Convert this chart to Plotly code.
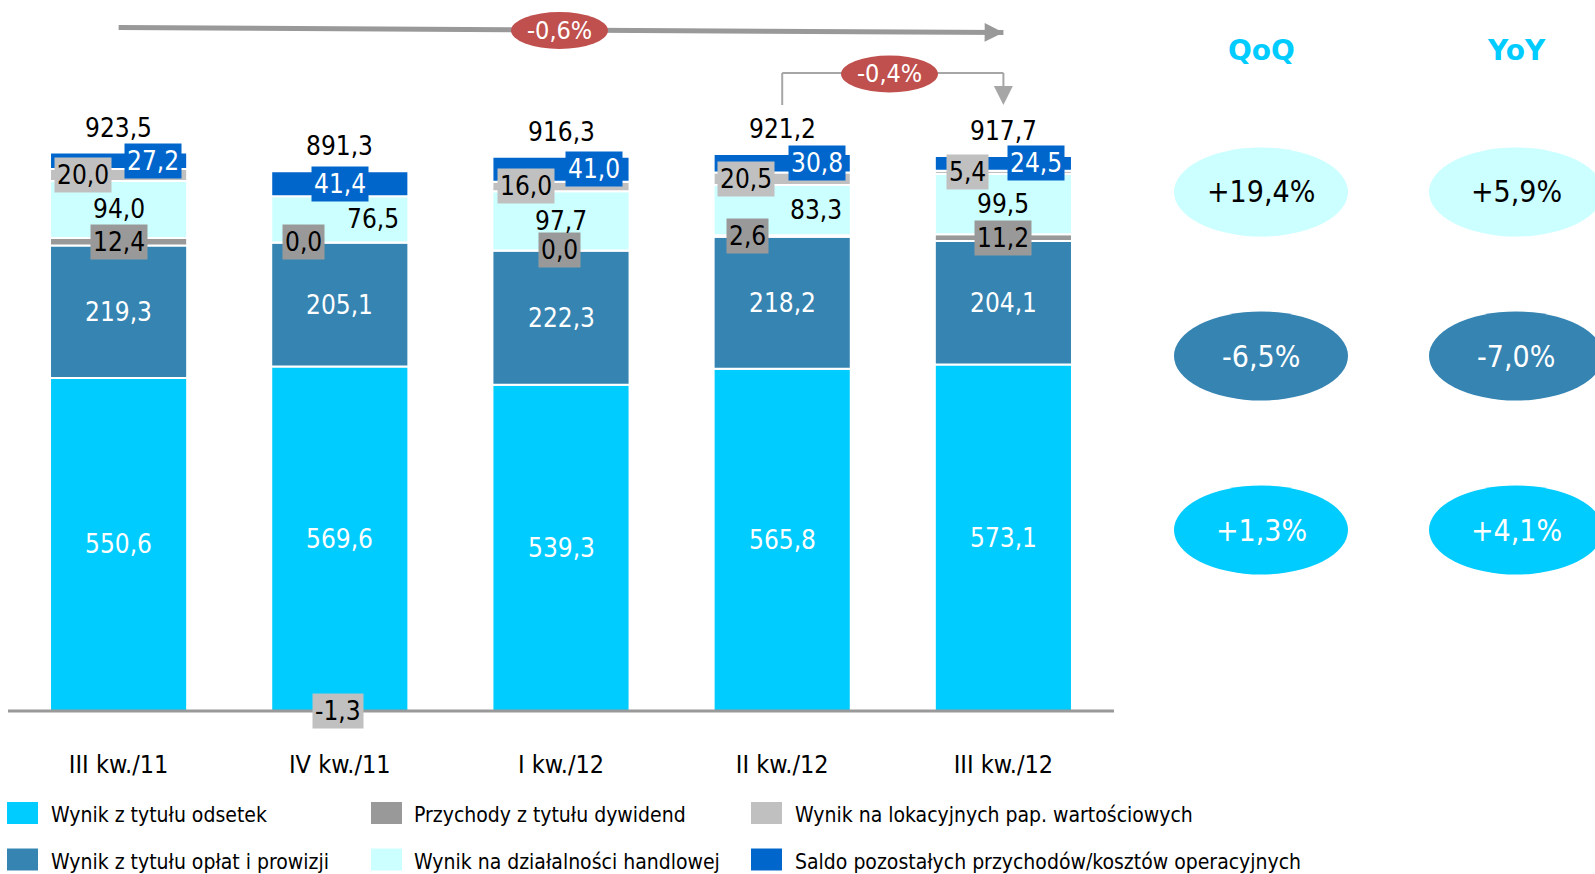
import plotly.graph_objects as go

# ---- data -------------------------------------------------------------
categories = ["III kw./11", "IV kw./11", "I kw./12", "II kw./12", "III kw./12"]

series_names = [
    "Wynik z tytułu odsetek",
    "Wynik z tytułu opłat i prowizji",
    "Przychody z tytułu dywidend",
    "Wynik na działalności handlowej",
    "Wynik na lokacyjnych pap. wartościowych",
    "Saldo pozostałych przychodów/kosztów operacyjnych",
]

odsetki = [550.6, 569.6, 539.3, 565.8, 573.1]
prowizje = [219.3, 205.1, 222.3, 218.2, 204.1]
dywidendy = [12.4, 0.0, 0.0, 2.6, 11.2]
handel = [94.0, 76.5, 97.7, 83.3, 99.5]
lokacyjne = [20.0, -1.3, 16.0, 20.5, 5.4]
pozostale = [27.2, 41.4, 41.0, 30.8, 24.5]
totals = [923.5, 891.3, 916.3, 921.2, 917.7]

change_overall = "-0,6%"
change_last = "-0,4%"

qoq = ["+19,4%", "-6,5%", "+1,3%"]
yoy = ["+5,9%", "-7,0%", "+4,1%"]

# ---- styling ----------------------------------------------------------
W, H = 1595, 874
FONT = "DejaVu Sans Condensed, Liberation Sans Narrow, DejaVu Sans, sans-serif"
colors = ["#00CCFF", "#3584B2", "#999999", "#CCFFFF", "#C0C0C0", "#0066CC"]
label_font_colors = ["white", "white", "black", "black", "black", "white"]
label_bg = [None, None, "#999999", None, "#C0C0C0", "#0066CC"]
label_xshift = [
    [0, 0, 0, 0, 0],
    [0, 0, 0, 0, 0],
    [0, -36, -2, -35, 0],
    [0, 33, 0, 34, 0],
    [-36, -2, -35, -36, -36],
    [34, 0, 33, 35, 33],
]
# rows of the change panel follow these series (handlowa, prowizje, odsetki)
panel_series = [3, 1, 0]
panel_text_colors = ["black", "white", "white"]

series_values = [odsetki, prowizje, dywidendy, handel, lokacyjne, pozostale]

PLOT_BOTTOM = 717  # pixel row of the bottom of the bar area
Y_RANGE = [-10, 1175.7]


def px_x(p):
    return p / W


def px_y(p):
    return (H - p) / H


def fmt(v):
    return f"{v:.1f}".replace(".", ",")


def paper_text(x, y, text, font, anchor="center"):
    return dict(x=px_x(x), y=px_y(y), xref="paper", yref="paper",
                xanchor=anchor, yanchor="middle", text=text,
                showarrow=False, font=font)


fig = go.Figure()
for name, vals, col in zip(series_names, series_values, colors):
    fig.add_trace(go.Bar(
        x=categories, y=vals, name=name,
        marker=dict(color=col, line=dict(color="white", width=2)),
        showlegend=False,
    ))

# ---- segment value labels ---------------------------------------------
annotations = []
for ci, cat in enumerate(categories):
    pos_base, neg_base = 0.0, 0.0
    for si, vals in enumerate(series_values):
        v = vals[ci]
        if v >= 0:
            mid = pos_base + v / 2
            pos_base += v
        else:
            mid = neg_base + v / 2
            neg_base += v
        ann = dict(
            x=cat, y=mid, xref="x", yref="y", text=fmt(v), showarrow=False,
            xanchor="center", yanchor="middle",
            xshift=label_xshift[si][ci],
            font=dict(family=FONT, size=26, color=label_font_colors[si]),
        )
        if label_bg[si]:
            ann.update(bgcolor=label_bg[si], borderpad=2)
        annotations.append(ann)
    # total above the stack
    annotations.append(dict(
        x=cat, y=pos_base, xref="x", yref="y", text=fmt(totals[ci]),
        showarrow=False, xanchor="center", yanchor="middle", yshift=25,
        font=dict(family=FONT, size=26, color="black"),
    ))

shapes = []
# baseline
shapes.append(dict(type="line", xref="paper", yref="y",
                   x0=px_x(8), x1=px_x(1114), y0=0, y1=0,
                   line=dict(color="#999999", width=3), layer="above"))

# overall change arrow (first -> last quarter)
shapes.append(dict(type="line", xref="x", yref="paper",
                   x0=categories[0], x1=categories[4],
                   y0=px_y(27.5), y1=px_y(32.5),
                   line=dict(color="#999999", width=5)))
annotations.append(dict(x=categories[4], y=px_y(32.5), xref="x", yref="paper",
                        ax=-14, ay=-0.1, axref="pixel", ayref="pixel",
                        text="", showarrow=True, arrowhead=2, arrowsize=0.75,
                        arrowwidth=5, arrowcolor="#999999", standoff=0))

# last-quarter change bracket
BR = "#A6A6A6"
shapes.append(dict(type="line", xref="x", yref="paper",
                   x0=categories[3], x1=categories[3], y0=px_y(105), y1=px_y(73),
                   line=dict(color=BR, width=2)))
shapes.append(dict(type="line", xref="x", yref="paper",
                   x0=categories[3], x1=categories[4], y0=px_y(73), y1=px_y(73),
                   line=dict(color=BR, width=2)))
shapes.append(dict(type="line", xref="x", yref="paper",
                   x0=categories[4], x1=categories[4], y0=px_y(73), y1=px_y(94),
                   line=dict(color=BR, width=2)))
annotations.append(dict(x=categories[4], y=px_y(105), xref="x", yref="paper",
                        ax=0, ay=-12, axref="pixel", ayref="pixel",
                        text="", showarrow=True, arrowhead=2, arrowsize=1.9,
                        arrowwidth=2, arrowcolor=BR, standoff=0))

# red change bubbles
for (cx, cy), txt in [((559.5, 30.5), change_overall), ((889.5, 74), change_last)]:
    shapes.append(dict(type="circle", xref="paper", yref="paper",
                       x0=px_x(cx - 48.5), x1=px_x(cx + 48.5),
                       y0=px_y(cy + 18.5), y1=px_y(cy - 18.5),
                       fillcolor="#C0504D", line=dict(width=0)))
    annotations.append(paper_text(cx, cy, txt,
                                  dict(family=FONT, size=25, color="white")))

# ---- QoQ / YoY panel ----------------------------------------------------
col_centers = [1261, 1516]
row_centers = [192, 356, 530]
for hx, htxt in zip(col_centers, ["QoQ", "YoY"]):
    annotations.append(paper_text(hx, 51, f"<b>{htxt}</b>",
                                  dict(family="DejaVu Sans, sans-serif", size=28,
                                       color="#00CCFF")))
for ri, (cy, si) in enumerate(zip(row_centers, panel_series)):
    for cx, vals in zip(col_centers, [qoq, yoy]):
        shapes.append(dict(type="circle", xref="paper", yref="paper",
                           x0=px_x(cx - 87), x1=px_x(cx + 87),
                           y0=px_y(cy + 44.5), y1=px_y(cy - 44.5),
                           fillcolor=colors[si], line=dict(width=0)))
        annotations.append(paper_text(cx, cy, vals[ri],
                                      dict(family=FONT, size=30,
                                           color=panel_text_colors[ri])))

# ---- legend -------------------------------------------------------------
legend_cols = [(7, 49), (371, 412), (751, 793)]
legend_rows = [813, 859.5]
legend_layout = [[0, 2, 4], [1, 3, 5]]
for ri, row in enumerate(legend_layout):
    for (sx, tx), si in zip(legend_cols, row):
        cy = legend_rows[ri]
        shapes.append(dict(type="rect", xref="paper", yref="paper",
                           x0=px_x(sx), x1=px_x(sx + 31),
                           y0=px_y(cy + 11), y1=px_y(cy - 11),
                           fillcolor=colors[si], line=dict(width=0)))
        annotations.append(paper_text(tx, cy + 2, series_names[si],
                                      dict(family=FONT, size=21, color="black"),
                                      anchor="left"))

fig.update_layout(
    width=W, height=H,
    margin=dict(l=0, r=0, t=0, b=0),
    paper_bgcolor="white", plot_bgcolor="white",
    barmode="relative", bargap=0.38,
    shapes=shapes, annotations=annotations,
    showlegend=False,
    xaxis=dict(domain=[px_x(8), px_x(1114)], type="category",
               showgrid=False, zeroline=False, showline=False, ticks="",
               ticklabelstandoff=30,
               tickfont=dict(family=FONT, size=25, color="black")),
    yaxis=dict(domain=[px_y(PLOT_BOTTOM), 1], range=Y_RANGE, visible=False,
               showgrid=False, zeroline=False),
)

fig.write_html("out.html")
